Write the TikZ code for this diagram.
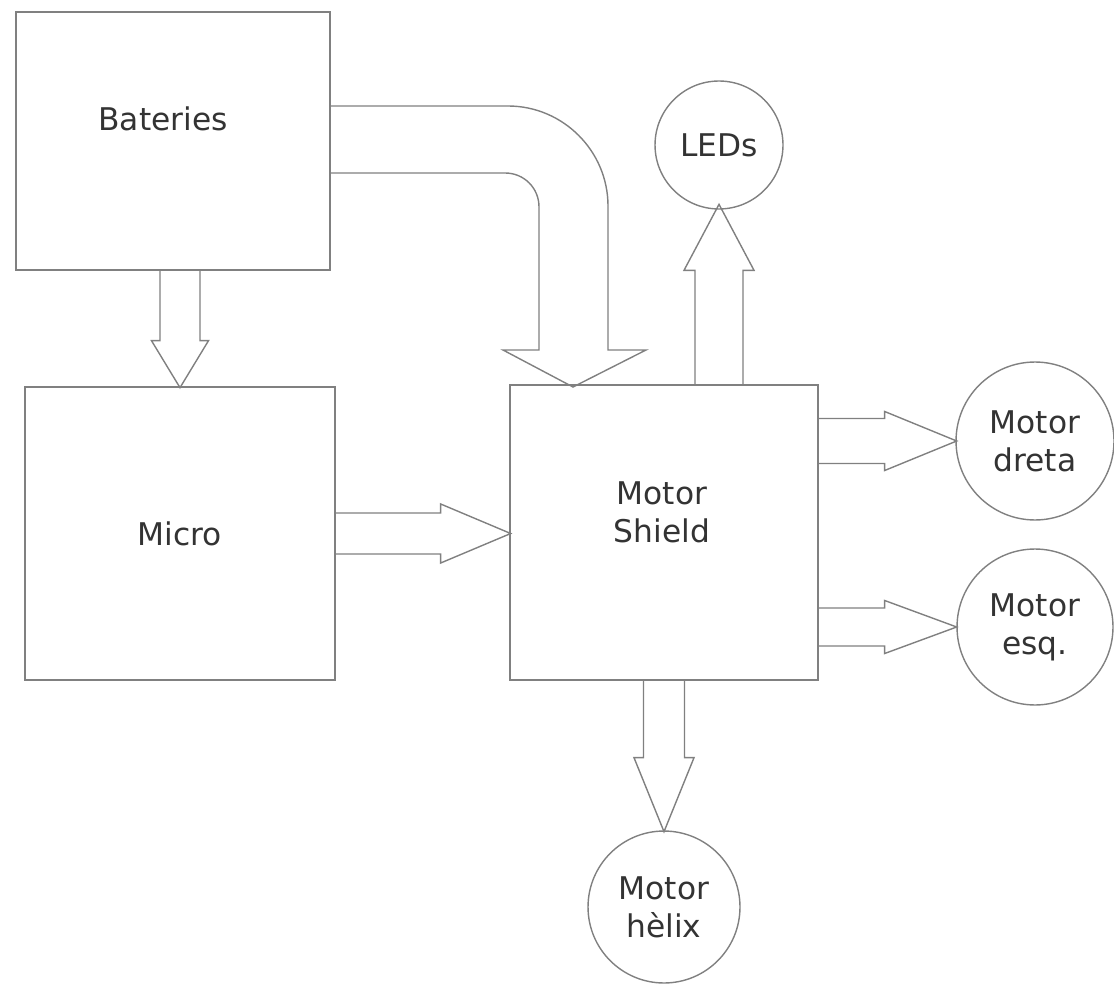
\documentclass[tikz,border=0pt]{standalone}
\usepackage{fontspec}
\setmainfont{DejaVu Sans}
\usetikzlibrary{calc}

% block arrow: start, angle, length, half shaft, half head, head length
\newcommand{\fatarr}[6]{%
  \draw[fat, shift={#1}, rotate=#2] (0,-#4) -- ({#3-#6},-#4) -- ({#3-#6},-#5) -- (#3,0)
    -- ({#3-#6},#5) -- ({#3-#6},#4) -- (0,#4);}

\begin{document}
\begin{tikzpicture}[x=0.02cm, y=-0.02cm,
    every node/.style={font=\fontsize{17.8}{21.6}\selectfont, text=black!80},
    fat/.style={draw=black!50, line width=0.8pt},
    blok/.style={draw=black!50, line width=0.8pt, inner sep=0pt},
    rund/.style={circle, draw=black!50, line width=0.8pt, inner sep=0pt, align=center}]
  \useasboundingbox (0,0) rectangle (1114,996);

  % boxes
  \node[blok, minimum width=6.28cm, minimum height=5.16cm] (bat) at (173,141) {};
  \node[blok, minimum width=6.2cm, minimum height=5.86cm] (micro) at (180,533.5) {};
  \node[blok, minimum width=6.16cm, minimum height=5.9cm] (shield) at (664,532.5) {};
  \node (batl) at (163,119) {Bateries};
  \node (microl) at (180,533.5) {Micro};
  \node[align=center] (shieldl) at (662,512) {Motor\\Shield};

  % round ones
  \node[rund, minimum size=2.56cm] (leds) at (719,145) {LEDs};
  \node[rund, minimum size=3.16cm] (dreta) at (1035,441) {Motor\\dreta};
  \node[rund, minimum size=3.12cm] (esq) at (1035,627) {Motor\\esq.};
  \node[rund, minimum size=3.04cm] (helix) at (664,907) {Motor\\hèlix};

  % arrows
  \fatarr{($(bat.south)+(7,0)$)}{270}{117}{20}{28.5}{47}
  \fatarr{(micro.east)}{0}{175}{20.5}{29.5}{70}
  \fatarr{(shield.north -| leds.south)}{90}{180}{24}{35}{66}
  \fatarr{(shield.east |- dreta.west)}{0}{138}{22.5}{29.5}{72}
  \fatarr{(shield.east |- esq.west)}{0}{138}{19}{26.5}{72}
  \fatarr{(shield.south -| helix.north)}{270}{151}{20.5}{30}{74}

  % bent arrow from the batteries
  \draw[fat] (330,106) -- (508,106) .. controls (563,106) and (608,151) .. (608,206)
    -- (608,350) -- (646,350) -- (573,387) -- (503,350) -- (539,350) -- (539,207)
    .. controls (539,188) and (524,173) .. (505,173) -- (330,173);
\end{tikzpicture}
\end{document}
